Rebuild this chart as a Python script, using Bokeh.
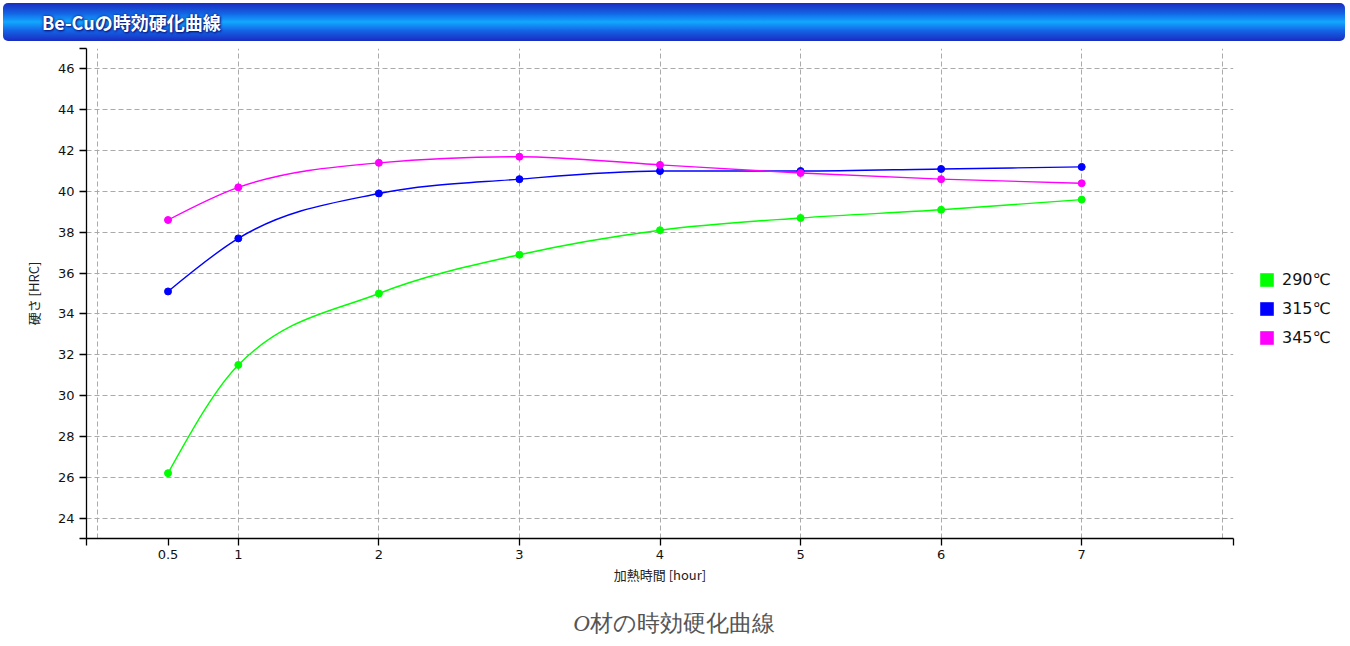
import numpy as np
from bokeh.plotting import figure
from bokeh.models import Range1d, FixedTicker, Legend, LegendItem, Div
from bokeh.layouts import column
from bokeh.embed import file_html
from bokeh.resources import INLINE

# ---- data ----
hours = [0.5, 1, 2, 3, 4, 5, 6, 7]
hrc_290 = [26.2, 31.5, 35.0, 36.9, 38.1, 38.7, 39.1, 39.6]
hrc_315 = [35.1, 37.7, 39.9, 40.6, 41.0, 41.0, 41.1, 41.2]
hrc_345 = [38.6, 40.2, 41.4, 41.7, 41.3, 40.9, 40.6, 40.4]
series_labels = ["290℃", "315℃", "345℃"]
series_colors = ["#00ff00", "#0000ff", "#ff00ff"]
x_tick_values = [0.5, 1, 2, 3, 4, 5, 6, 7]
x_grid_values = [0, 1, 2, 3, 4, 5, 6, 7, 8]
y_tick_values = [24, 26, 28, 30, 32, 34, 36, 38, 40, 42, 44, 46]
header_title = "Be-Cuの時効硬化曲線"
x_label = "加熱時間 [hour]"
y_label = "硬さ [HRC]"
caption_italic = "O"
caption_rest = "材の時効硬化曲線"

X_START, X_END = -0.08, 8.08
Y_START, Y_END = 23, 47


def monotone_bezier(xs, ys):
    """Monotone-X cubic (as d3.curveMonotoneX) -> bezier control points."""
    xs = np.asarray(xs, float)
    ys = np.asarray(ys, float)
    n = len(xs)
    h = np.diff(xs)
    s = np.diff(ys) / h
    t = np.zeros(n)
    for i in range(1, n - 1):
        h0, h1 = h[i - 1], h[i]
        s0, s1 = s[i - 1], s[i]
        p = (s0 * h1 + s1 * h0) / (h0 + h1)
        t[i] = (np.sign(s0) + np.sign(s1)) * min(abs(s0), abs(s1), 0.5 * abs(p))
    t[0] = (3 * s[0] - t[1]) / 2
    t[-1] = (3 * s[-1] - t[-2]) / 2
    dx = h / 3
    return dict(
        x0=xs[:-1], y0=ys[:-1], x1=xs[1:], y1=ys[1:],
        cx0=xs[:-1] + dx, cy0=ys[:-1] + dx * t[:-1],
        cx1=xs[1:] - dx, cy1=ys[1:] - dx * t[1:],
    )


header = Div(
    text=(
        '<div style="box-sizing:border-box;width:1342px;height:38px;'
        'border-radius:5px;'
        'background:linear-gradient(to bottom,#1a2cc0 0%,#1466e6 28%,#12a8ff 50%,#1466e6 72%,#1a2cc0 100%);'
        'color:#ffffff;font-family:\'Noto Sans CJK JP\',sans-serif;font-weight:bold;'
        'font-size:18px;line-height:38px;padding-left:39px;'
        'text-shadow:0 0 3px #0a1480,1px 1px 2px #0a1480;">'
        + header_title + '</div>'
    ),
    width=1342, height=38, margin=(3, 0, 0, 3),
)

p = figure(
    frame_width=1147, frame_height=490,
    x_range=Range1d(X_START, X_END), y_range=Range1d(Y_START, Y_END),
    output_backend="svg", toolbar_location=None,
    min_border_left=86, min_border_right=10,
    min_border_top=7, min_border_bottom=71,
    outline_line_color=None, background_fill_color="white",
    margin=(0, 0, 0, 0),
)

# axes
p.xaxis.ticker = FixedTicker(ticks=[X_START] + x_tick_values + [X_END])
p.xaxis.major_label_overrides = {X_START: "", X_END: ""}
p.yaxis.ticker = FixedTicker(ticks=[Y_START] + y_tick_values + [Y_END])
p.yaxis.major_label_overrides = {Y_START: "", Y_END: ""}
for ax in (p.xaxis, p.yaxis):
    ax.axis_line_color = "black"
    ax.axis_line_width = 1.3
    ax.major_tick_line_color = "black"
    ax.major_tick_line_width = 1.3
    ax.major_tick_in = 0
    ax.major_tick_out = 7
    ax.minor_tick_line_color = None
    ax.major_label_text_font = "DejaVu Sans"
    ax.major_label_text_font_size = "13px"
    ax.major_label_text_color = "#111111"
    ax.axis_label_text_font = "Noto Sans CJK JP"
    ax.axis_label_text_font_size = "13px"
    ax.axis_label_text_font_style = "normal"
    ax.axis_label_text_color = "#222222"
p.xaxis.major_label_standoff = 4
p.yaxis.major_label_standoff = 5
p.xaxis.axis_label = x_label
p.yaxis.axis_label = y_label
p.xaxis.axis_label_standoff = 3
p.yaxis.axis_label_standoff = 12

# grid
p.xgrid.ticker = FixedTicker(ticks=x_grid_values)
p.ygrid.ticker = FixedTicker(ticks=y_tick_values)
for g in (p.xgrid, p.ygrid):
    g.grid_line_color = "#aaaaaa"
    g.grid_line_dash = "5 3"
    g.grid_line_width = 1

# series
legend_items = []
for vals, lab, col in zip([hrc_290, hrc_315, hrc_345], series_labels, series_colors):
    seg = monotone_bezier(hours, vals)
    p.bezier(line_color=col, line_width=1.4, **seg)
    p.scatter(hours, vals, size=7, fill_color=col, line_color=col)
    # legend-only swatch (not drawn in the plot: NaN coordinates)
    swatch = p.quad(left=[np.nan], right=[np.nan], top=[np.nan], bottom=[np.nan],
                    fill_color=col, line_color=None)
    legend_items.append(LegendItem(label=lab, renderers=[swatch]))

legend = Legend(
    items=legend_items, location=(25, 191),
    glyph_width=17, glyph_height=17, label_height=17, spacing=10,
    padding=0, margin=0, label_standoff=7,
    border_line_alpha=0, background_fill_alpha=0,
    label_text_font="DejaVu Sans", label_text_font_size="16px",
    label_text_color="#111111",
)
p.add_layout(legend, "right")

caption = Div(
    text=(
        '<div style="width:1348px;height:30px;line-height:30px;text-align:center;'
        'font-family:\'Liberation Serif\',serif;font-size:23px;color:#555555;">'
        '<i>' + caption_italic + '</i>' + caption_rest + '</div>'
    ),
    width=1348, height=30, margin=(0, 0, 0, 0),
)

layout = column(header, p, caption, spacing=0)
open("out.html", "w").write(file_html(layout, INLINE))
